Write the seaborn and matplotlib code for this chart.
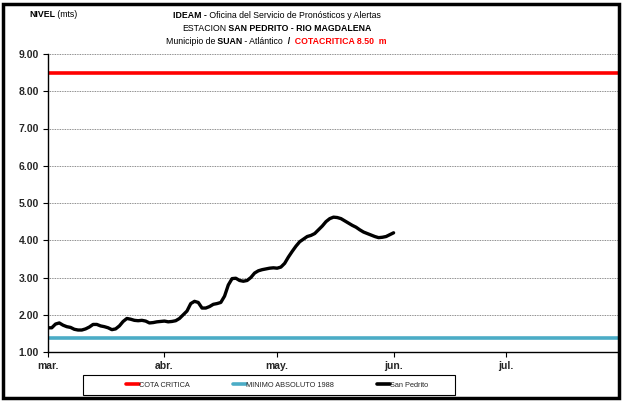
import matplotlib
matplotlib.use("Agg")
import matplotlib.pyplot as plt
import matplotlib.patches as patches
import numpy as np
import pandas as pd
import seaborn as sns

# daily levels of San Pedrito (m), starting 1 March
nivel = [1.65, 1.65, 1.75, 1.78, 1.72, 1.68, 1.66, 1.61, 1.59, 1.59,
         1.62, 1.67, 1.74, 1.74, 1.70, 1.68, 1.65, 1.60, 1.62, 1.70,
         1.82, 1.90, 1.88, 1.85, 1.84, 1.85, 1.83, 1.78, 1.79, 1.81,
         1.82, 1.83, 1.81, 1.82, 1.84, 1.90, 2.00, 2.10, 2.30, 2.36,
         2.33, 2.18, 2.18, 2.22, 2.28, 2.30, 2.33, 2.50, 2.80, 2.97,
         2.98, 2.92, 2.90, 2.92, 3.00, 3.12, 3.18, 3.21, 3.23, 3.25,
         3.26, 3.25, 3.28, 3.38, 3.55, 3.70, 3.84, 3.96, 4.03, 4.10,
         4.13, 4.18, 4.28, 4.38, 4.50, 4.58, 4.62, 4.61, 4.58, 4.52,
         4.46, 4.40, 4.35, 4.28, 4.22, 4.18, 4.14, 4.10, 4.07, 4.08,
         4.10, 4.15, 4.20]
cota_critica = 8.50
minimo_1988 = 1.37
inicio = "2012-03-01"
fin = "2012-07-31"
meses = ["2012-03-01", "2012-04-01", "2012-05-01", "2012-06-01", "2012-07-01"]
meses_lbl = ["mar.", "abr.", "may.", "jun.", "jul."]
y_ticks = [1, 2, 3, 4, 5, 6, 7, 8, 9]

fechas = pd.date_range(inicio, periods=len(nivel), freq="D")
df = pd.DataFrame({"fecha": fechas, "nivel": nivel})
lim = pd.to_datetime([inicio, fin])
df_cota = pd.DataFrame({"fecha": lim, "nivel": [cota_critica] * 2})
df_min = pd.DataFrame({"fecha": lim, "nivel": [minimo_1988] * 2})

sns.set_style("white")
plt.rcParams["font.family"] = ["Liberation Sans Narrow", "Liberation Sans", "DejaVu Sans"]

fig = plt.figure(figsize=(6.23, 4.01), dpi=100)
ax = fig.add_axes([48 / 623, 1 - 352 / 401, 571 / 623, 298 / 401])

sns.lineplot(data=df_cota, x="fecha", y="nivel", color="#ff0000", lw=2.6, ax=ax, label="COTA CRITICA")
sns.lineplot(data=df_min, x="fecha", y="nivel", color="#4bacc6", lw=2.6, ax=ax, label="MINIMO ABSOLUTO 1988")
sns.lineplot(data=df, x="fecha", y="nivel", color="black", lw=2.4, ax=ax, label="San Pedrito")

ax.set_xlim(lim[0], lim[1])
ax.set_ylim(1, 9)
ax.set_yticks(y_ticks)
ax.set_yticklabels([f"{v:.2f}" for v in y_ticks], fontweight="bold", fontsize=7.5)
ax.set_xticks(pd.to_datetime(meses))
ax.set_xticklabels(meses_lbl, fontweight="bold", fontsize=7.5)
ax.set_xlabel("")
ax.set_ylabel("")
for v in y_ticks[1:]:
    ax.axhline(v, color="#666666", lw=0.6, ls=(0, (1, 1)), zorder=0)
ax.tick_params(axis="both", bottom=True, left=True, length=3.5, width=0.8, color="black", direction="out")
ax.tick_params(axis="x", pad=3)
ax.tick_params(axis="y", pad=3)
for s in ["left", "bottom"]:
    ax.spines[s].set_color("black")
    ax.spines[s].set_linewidth(1.0)
ax.spines["top"].set_visible(False)
ax.spines["right"].set_color("#888888")
ax.spines["right"].set_linewidth(0.7)

leg = ax.legend(loc="center left", bbox_to_anchor=(126 / 623, 1 - 385 / 401), bbox_transform=fig.transFigure,
                ncol=3, fontsize=5.3, frameon=False, handlelength=1.8, handletextpad=0.0,
                columnspacing=5.8, borderpad=0.0, borderaxespad=0.0)
for h in leg.get_lines():
    h.set_linewidth(2.6)
fig.patches.append(patches.Rectangle((83 / 623, 1 - 395 / 401), 372 / 623, 20 / 401, transform=fig.transFigure,
                                     fill=False, edgecolor="black", lw=0.8))

# titles with mixed bold / normal pieces (spaces kept at the start of pieces)
def linea(partes, xc, y, size=6.3):
    r = fig.canvas.get_renderer()
    ts = []
    for txt, w, c in partes:
        ts.append(fig.text(0, y, txt, fontsize=size, fontweight=w, color=c, va="baseline"))
    ws = [t.get_window_extent(r).width for t in ts]
    x = xc * 623 - sum(ws) / 2
    for t, w in zip(ts, ws):
        t.set_x(x / 623)
        x += w

fig.canvas.draw()
linea([("NIVEL", "bold", "black"), (" (mts)", "normal", "black")], 53 / 623, 1 - 17 / 401)
linea([("IDEAM -", "bold", "black"), (" Oficina del Servicio de Pronósticos y Alertas", "normal", "black")],
      277 / 623, 1 - 18 / 401)
linea([("ESTACION", "normal", "black"), (" SAN PEDRITO - RIO MAGDALENA", "bold", "black")],
      277 / 623, 1 - 31 / 401)
linea([("Municipio de", "normal", "black"), (" SUAN", "bold", "black"), (" - Atlántico", "normal", "black"),
       ("  /", "bold", "black"), ("  COTACRITICA 8.50  m", "bold", "#ff0000")],
      276 / 623, 1 - 44 / 401)

fig.patches.append(patches.Rectangle((3 / 623, 3 / 401), 616 / 623, 394 / 401, transform=fig.transFigure,
                                     fill=False, edgecolor="black", lw=2.5))

fig.savefig("out.png", dpi=100)
